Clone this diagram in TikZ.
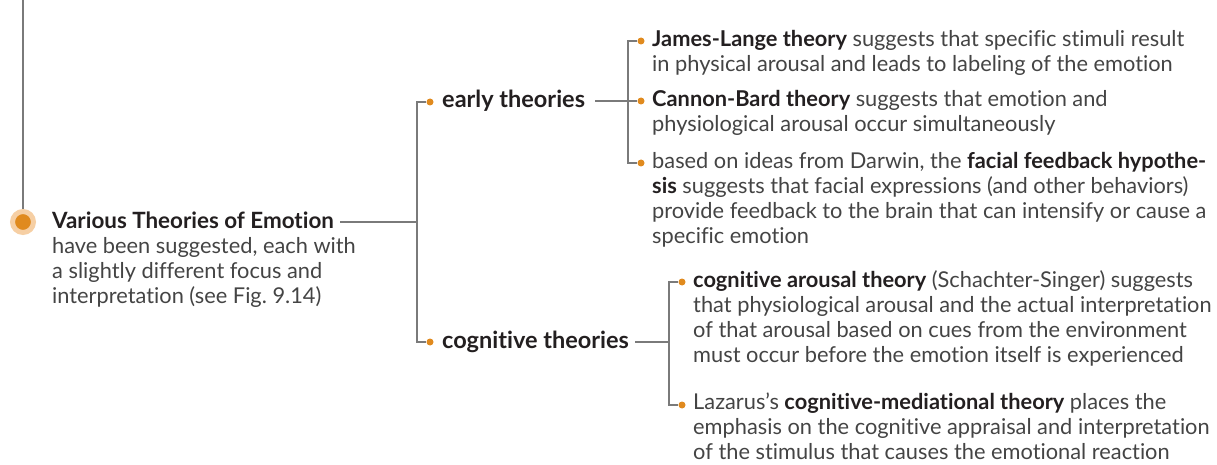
\documentclass[tikz,border=0pt]{standalone}
\usepackage{fontspec}
\setmainfont{Lato}[Ligatures=NoCommon]
\usetikzlibrary{positioning}
\definecolor{linegray}{HTML}{7A7A7A}
\definecolor{dotorange}{HTML}{E08A1E}
\definecolor{ringorange}{HTML}{F6CFA4}
\definecolor{txt}{HTML}{444444}
\definecolor{txtbold}{HTML}{231F20}
\newcommand{\kw}[1]{\textcolor{txtbold}{\textbf{#1}}}
\frenchspacing
\tikzset{
  conn/.style={draw=linegray,line width=1.1pt},
  dot/.style={circle,fill=dotorange,inner sep=0pt,minimum size=7pt},
  rootdot/.style={circle,fill=dotorange,draw=ringorange,line width=5pt,inner sep=0pt,minimum size=21pt},
  lbl/.style={anchor=base west,inner sep=0pt,align=left,text=txt,font=\fontsize{21.8}{25}\selectfont},
  head/.style={lbl,text=txtbold,font=\fontsize{23.5}{25}\selectfont\bfseries},
  roothead/.style={lbl,text=txtbold,font=\fontsize{22.4}{25}\selectfont\bfseries},
}
\begin{document}
\begin{tikzpicture}[x=1pt,y=-1pt]
  \useasboundingbox (0,0) rectangle (1217,465);
  % root (multi-line nodes sit on their last baseline)
  \coordinate (top) at (23,0);
  \node[rootdot] (root) at (23,222) {};
  \node[roothead] (title) at (52,228) {Various Theories of Emotion};
  \node[lbl] (desc) at (52,303) {have been suggested, each with\\a slightly different focus and\\interpretation (see Fig. 9.14)};
  % first level
  \coordinate (j0) at (417,222);
  \node[dot] (dearly) at (430,102) {};
  \node[dot] (dcog) at (430,342) {};
  \node[head] (early) at (442,108) {early theories};
  \node[head] (cogth) at (442,348) {cognitive theories};
  % early theories
  \coordinate (j1) at (628,101);
  \node[dot] (djames) at (641,41) {};
  \node[dot] (dcannon) at (641,101) {};
  \node[dot] (dfacial) at (641,163) {};
  \node[lbl] (james) at (652,71.5) {\kw{James-Lange theory} suggests that specific stimuli result\\in physical arousal and leads to labeling of the emotion};
  \node[lbl] (cannon) at (652,131.5) {\kw{Cannon-Bard theory} suggests that emotion and\\physiological arousal occur simultaneously};
  \node[lbl] (facial) at (652,243.5) {based on ideas from Darwin, the \kw{facial feedback hypothe-}\\\kw{sis} suggests that facial expressions (and other behaviors)\\provide feedback to the brain that can intensify or cause a\\specific emotion};
  % cognitive theories
  \coordinate (j2) at (669,342);
  \node[dot] (darousal) at (682,282) {};
  \node[dot] (dlazarus) at (682,405) {};
  \node[lbl] (arousal) at (693,362.5) {\kw{cognitive arousal theory} (Schachter-Singer) suggests\\that physiological arousal and the actual interpretation\\of that arousal based on cues from the environment\\must occur before the emotion itself is experienced};
  \node[lbl] (lazarus) at (693,459.5) {Lazarus’s \kw{cognitive-mediational theory} places the\\emphasis on the cognitive appraisal and interpretation\\of the stimulus that causes the emotional reaction};
  % connectors
  \draw[conn] (top) -- (root.north);
  \draw[conn] ([xshift=6pt]title.east |- root) -- (j0);
  \draw[conn] (dearly) -| (j0) |- (dcog);
  \draw[conn] ([xshift=10pt]early.east |- dcannon) -- (dcannon);
  \draw[conn] (djames) -| (j1) |- (dfacial);
  \draw[conn] ([xshift=6pt]cogth.east |- dcog) -- (j2);
  \draw[conn] (darousal) -| (j2) |- (dlazarus);
\end{tikzpicture}
\end{document}
